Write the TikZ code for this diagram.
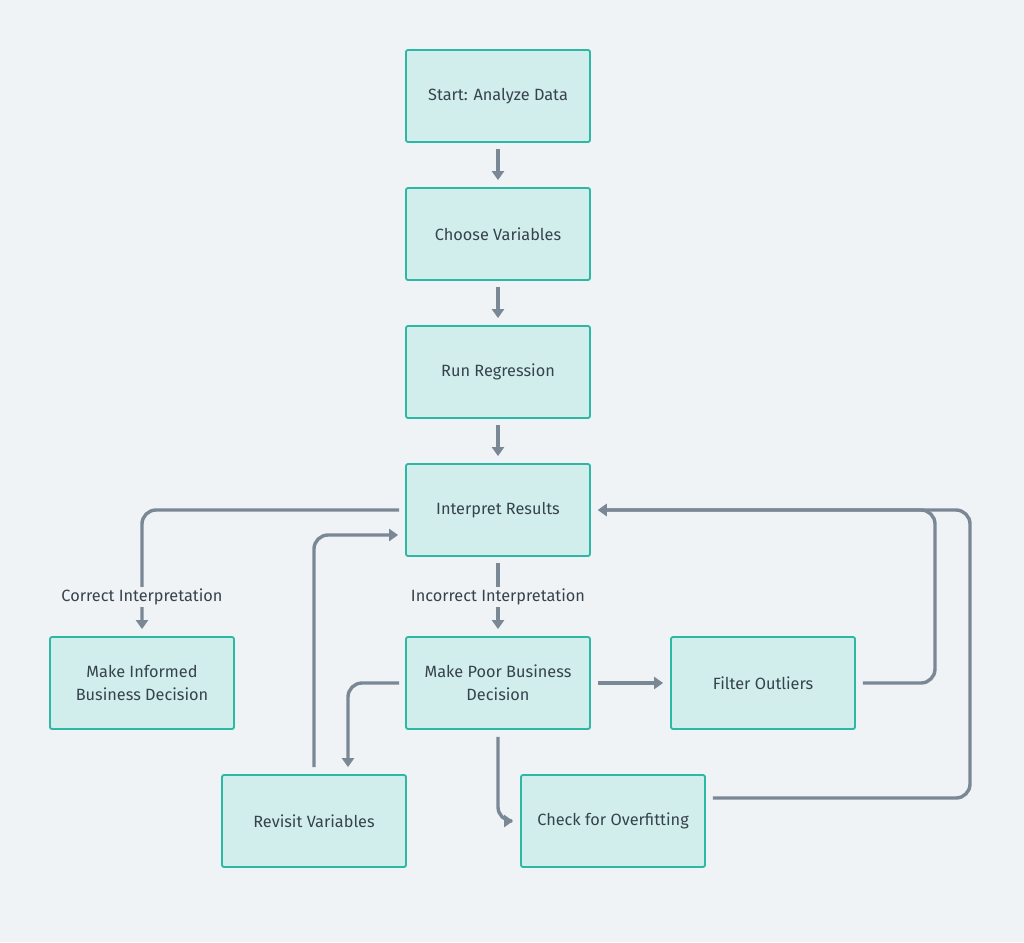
\documentclass[tikz,border=0pt]{standalone}
\usepackage{fontspec}
\setmainfont{Fira Sans}
\usetikzlibrary{arrows.meta}
\definecolor{bg}{HTML}{F0F3F6}
\definecolor{boxfill}{HTML}{D2EEEC}
\definecolor{boxline}{HTML}{2DB8A3}
\definecolor{conn}{HTML}{7A8896}
\definecolor{txt}{HTML}{36424C}
\tikzset{
  x=1pt, y=-1pt,
  stepbox/.style={draw=boxline, fill=boxfill, line width=1.8pt, rounded corners=2pt,
    minimum width=184pt, minimum height=92pt, align=center, text=txt,
    font=\fontsize{16.3}{23}\selectfont},
  conn/.style={draw=conn, line width=3.4pt, rounded corners=14pt,
    -{Triangle[width=12pt,length=9pt]}},
  lbl/.style={fill=bg, text=txt, font=\fontsize{16.3}{18}\selectfont, inner sep=2pt}
}
\begin{document}
\begin{tikzpicture}
\fill[bg] (0,0) rectangle (1024,942);
\useasboundingbox (0,0) rectangle (1024,942);

\node[stepbox] (start) at (498,96) {Start: Analyze Data};
\node[stepbox] (choose) at (498,234) {Choose Variables};
\node[stepbox] (run) at (498,372) {Run Regression};
\node[stepbox] (interp) at (498,510) {Interpret Results};
\node[stepbox] (informed) at (142,683) {Make Informed\\Business Decision};
\node[stepbox] (poor) at (498,683) {Make Poor Business\\Decision};
\node[stepbox] (filter) at (763,683) {Filter Outliers};
\node[stepbox] (revisit) at (314,821) {Revisit Variables};
\node[stepbox] (check) at (613,821) {Check for Overfitting};

\draw[conn, shorten <=6pt, shorten >=7pt] (start) -- (choose);
\draw[conn, shorten <=6pt, shorten >=7pt] (choose) -- (run);
\draw[conn, shorten <=6pt, shorten >=7pt] (run) -- (interp);

% Interpret -> Informed
\draw[conn, shorten >=7pt] ([xshift=-6pt]interp.west) -| (informed.north);
\node[lbl] (lc) at (142,597) {Correct Interpretation};

% Interpret -> Poor
\draw[conn, shorten <=6pt, shorten >=7pt] (interp) -- (poor);
\node[lbl] (li) at (498,597) {Incorrect Interpretation};

% Poor -> Filter
\draw[conn, shorten <=7pt, shorten >=7pt] (poor) -- (filter);

% Poor -> Revisit
\coordinate (rv) at ([xshift=34pt]revisit.north);
\draw[conn, shorten >=7pt] ([xshift=-6pt]poor.west) -| (rv);

% Poor -> Check
\draw[conn, shorten <=7pt, shorten >=7pt] (poor.south) |- (check.west);

% Revisit -> Interpret
\coordinate (iw) at ([yshift=-25pt]interp.west);
\draw[conn, shorten <=7pt, shorten >=7pt] (revisit.north) |- (iw);

% Filter -> Interpret
\coordinate (fr) at (935,683);
\draw[conn, shorten >=7pt] ([xshift=7pt]filter.east) -- (fr) |- (interp.east);

% Check -> Interpret
\coordinate (ce) at ([xshift=7pt,yshift=23pt]check.east);
\coordinate (cr) at (970,798);
\draw[conn, shorten >=7pt] (ce) -- (cr) |- (interp.east);
\end{tikzpicture}
\end{document}
